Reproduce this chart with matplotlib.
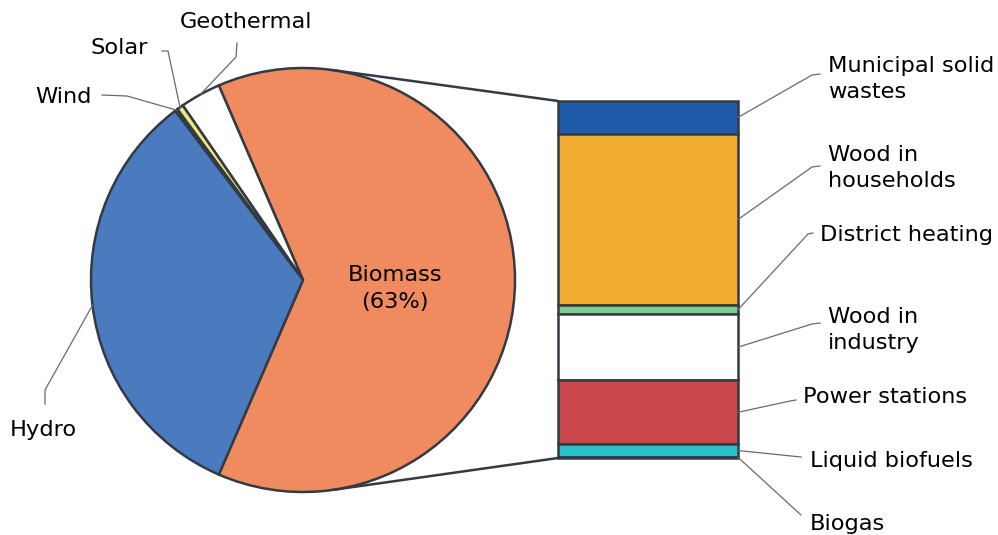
import numpy as np
import matplotlib.pyplot as plt
from matplotlib.patches import ConnectionPatch
from matplotlib.lines import Line2D

# renewable sources, share in %
sources = ["Biomass", "Geothermal", "Solar", "Wind", "Hydro"]
shares = [63.0, 3.1, 0.5, 0.2, 33.2]
pie_colors = ["#f08b5f", "#ffffff", "#ecea7c", "#3b4a3c", "#4a7bbf"]

# breakdown of biomass use, % of biomass (top to bottom)
uses = ["Municipal solid\nwastes", "Wood in\nhouseholds", "District heating",
        "Wood in\nindustry", "Power stations", "Liquid biofuels", "Biogas"]
use_shares = [9.2, 48.0, 2.5, 18.5, 18.0, 3.4, 0.4]
bar_colors = ["#1f5ba8", "#f2ae31", "#80cc8e", "#ffffff", "#c9464b", "#2cbfcc", "#8fbc5a"]

W, H = 998, 535
edge = "#333a44"
lead = "#6a6a6a"
fs = 16.2


def fig_xy(x, y):
    # pixel position (from top left) -> figure fraction
    return x / W, 1 - y / H


fig = plt.figure(figsize=(W / 100, H / 100), dpi=100)

# pie, centre (303, 280) px, radius 212 px
R, m = 212, 1.05
ax1 = fig.add_axes([(303 - R * m) / W, 1 - (280 + R * m) / H, 2 * R * m / W, 2 * R * m / H])
wedges, _ = ax1.pie(shares, colors=pie_colors, startangle=-shares[0] * 1.8,
                    counterclock=True,
                    wedgeprops=dict(edgecolor=edge, linewidth=1.8))
ax1.set_xlim(-m, m)
ax1.set_ylim(-m, m)
ax1.axis("off")
ax1.text(0.435, -0.04, "Biomass\n(%d%%)" % shares[0], ha="center", va="center",
         fontsize=fs, linespacing=1.4)

# stacked bar for the biomass breakdown
ax2 = fig.add_axes([558 / W, 1 - 458 / H, 180 / W, 357 / H])
top = 100.0
bar_mid = []
for v, c in zip(use_shares, bar_colors):
    ax2.bar(0.5, v, width=1.0, bottom=top - v, color=c, edgecolor=edge,
            linewidth=1.8, clip_on=False)
    bar_mid.append(top - v / 2)
    top -= v
ax2.set_xlim(0, 1)
ax2.set_ylim(0, 100)
ax2.axis("off")

# tangent lines from bar corners to the pie
for yb, sign in [(100, 1), (0, -1)]:
    p = ax1.transData.inverted().transform(ax2.transData.transform((0, yb)))
    d = np.hypot(*p)
    ang = np.arctan2(p[1], p[0]) + sign * np.arccos(1 / d)
    con = ConnectionPatch(xyA=(0, yb), coordsA=ax2.transData,
                          xyB=(np.cos(ang), np.sin(ang)), coordsB=ax1.transData,
                          color=edge, linewidth=1.8)
    fig.add_artist(con)


def to_fig(ax, xy):
    return fig.transFigure.inverted().transform(ax.transData.transform(xy))


def leader(points, target):
    xs = [fig_xy(*p)[0] for p in points] + [target[0]]
    ys = [fig_xy(*p)[1] for p in points] + [target[1]]
    fig.add_artist(Line2D(xs, ys, color=lead, linewidth=0.9,
                          transform=fig.transFigure))


# pie labels: text position, leader path (px)
pie_labels = {
    "Geothermal": ((180, 22), [(237, 43), (236, 57)]),
    "Solar": ((90, 48), [(162, 51), (168, 51)]),
    "Wind": ((35, 97), [(102, 95), (127, 96)]),
    "Hydro": ((10, 430), [(45, 404), (45, 390)]),
}
for w, name in zip(wedges, sources):
    if name not in pie_labels:
        continue
    (tx, ty), path = pie_labels[name]
    fig.text(*fig_xy(tx, ty), name, ha="left", va="center", fontsize=fs)
    a = np.deg2rad((w.theta1 + w.theta2) / 2)
    leader(path, to_fig(ax1, (np.cos(a), np.sin(a))))

# bar labels
bar_labels = [
    ((828, 79), [(820, 74), (812, 75)]),
    ((828, 168), [(820, 166), (812, 167)]),
    ((820, 235), [(813, 233), (808, 234)]),
    ((828, 330), [(820, 323), (812, 324)]),
    ((803, 397), [(796, 400), (790, 401)]),
    ((810, 461), [(801, 457)]),
    ((810, 524), [(801, 515)]),
]
for name, mid, ((tx, ty), path) in zip(uses, bar_mid, bar_labels):
    fig.text(*fig_xy(tx, ty), name, ha="left", va="center", fontsize=fs,
             linespacing=1.4)
    leader(path, to_fig(ax2, (1, mid)))

plt.savefig("out.png", dpi=100)
